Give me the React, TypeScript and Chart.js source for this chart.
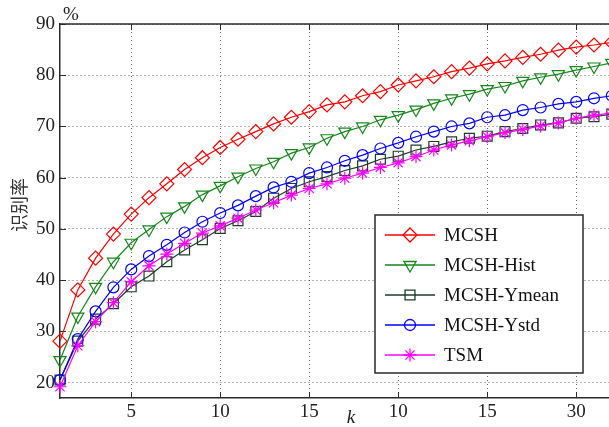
import React, { useEffect, useRef } from 'react';
import { Chart, registerables } from 'chart.js';

Chart.register(...registerables);

const kValues = [1, 2, 3, 4, 5, 6, 7, 8, 9, 10, 11, 12, 13, 14, 15, 16, 17, 18, 19, 20, 21, 22, 23, 24, 25, 26, 27, 28, 29, 30, 31, 32];
const xTickValues = [5, 10, 15, 20, 25, 30];
const xTickLabels = ['5', '10', '15', '10', '15', '30'];
const yTickValues = [20, 30, 40, 50, 60, 70, 80, 90];

const seriesNames = ['MCSH', 'MCSH-Hist', 'MCSH-Ymean', 'MCSH-Ystd', 'TSM'];
const mcsh = [28.1, 38.1, 44.3, 49.0, 52.9, 56.1, 58.8, 61.6, 63.9, 65.9, 67.5, 69.0, 70.5, 71.8, 72.9, 74.2, 74.8, 76.0, 76.8, 78.1, 78.9, 79.7, 80.7, 81.4, 82.2, 82.8, 83.5, 84.1, 84.9, 85.5, 85.9, 86.4];
const mcshHist = [24.4, 32.9, 38.7, 43.6, 47.3, 49.9, 52.4, 54.4, 56.7, 58.4, 60.2, 61.8, 63.1, 64.8, 65.9, 67.7, 69.0, 70.0, 71.3, 72.2, 73.3, 74.5, 75.5, 76.3, 77.3, 77.9, 78.9, 79.6, 80.2, 81.0, 81.7, 82.4];
const mcshYmean = [20.5, 28.1, 32.4, 35.4, 38.7, 40.8, 43.6, 45.9, 47.9, 50.1, 51.6, 53.4, 56.0, 57.9, 59.2, 60.2, 61.4, 62.3, 63.6, 64.2, 65.4, 66.1, 67.0, 67.7, 68.1, 69.0, 69.6, 70.3, 70.7, 71.6, 71.9, 72.4];
const mcshYstd = [20.5, 28.5, 33.9, 38.6, 42.1, 44.7, 46.9, 49.3, 51.4, 53.1, 54.6, 56.4, 58.1, 59.2, 60.9, 62.0, 63.3, 64.4, 65.7, 66.8, 68.0, 69.0, 70.0, 70.6, 71.8, 72.2, 73.2, 73.7, 74.4, 74.8, 75.5, 76.0];
const tsm = [19.2, 27.2, 31.9, 35.6, 39.7, 42.8, 45.1, 47.2, 49.2, 50.6, 52.1, 53.7, 55.1, 56.6, 57.9, 58.8, 59.9, 60.9, 62.0, 62.9, 64.1, 65.4, 66.4, 67.2, 68.0, 68.8, 69.4, 70.1, 70.7, 71.6, 72.2, 72.6];

const seriesValues = [mcsh, mcshHist, mcshYmean, mcshYstd, tsm];
const seriesColors = ['#ff0000', '#15871a', '#1d3b2a', '#0000ff', '#ff00ff'];
const seriesMarkers = ['rectRot', 'triangle', 'rect', 'circle', 'star'];
const markerRotation = [0, 180, 0, 0, 0];
const markerRadius = [7, 7, 7, 5.5, 6.5];

const SERIF = "'Liberation Serif', 'Times New Roman', serif";
const AXIS_COLOR = '#2b2b2b';

function drawMarker(ctx: CanvasRenderingContext2D, style: string, x: number, y: number, r: number, rot: number) {
  ctx.beginPath();
  if (style === 'rectRot') {
    ctx.moveTo(x, y - r);
    ctx.lineTo(x + r, y);
    ctx.lineTo(x, y + r);
    ctx.lineTo(x - r, y);
    ctx.closePath();
  } else if (style === 'triangle') {
    let rad = (rot * Math.PI) / 180;
    ctx.moveTo(x + Math.sin(rad) * r, y - Math.cos(rad) * r);
    rad += (2 * Math.PI) / 3;
    ctx.lineTo(x + Math.sin(rad) * r, y - Math.cos(rad) * r);
    rad += (2 * Math.PI) / 3;
    ctx.lineTo(x + Math.sin(rad) * r, y - Math.cos(rad) * r);
    ctx.closePath();
  } else if (style === 'rect') {
    const s = Math.SQRT1_2 * r;
    ctx.rect(x - s, y - s, 2 * s, 2 * s);
  } else if (style === 'circle') {
    ctx.arc(x, y, r, 0, Math.PI * 2);
  } else if (style === 'star') {
    for (let i = 0; i < 4; i++) {
      const a = (i * Math.PI) / 4;
      ctx.moveTo(x - Math.cos(a) * r, y - Math.sin(a) * r);
      ctx.lineTo(x + Math.cos(a) * r, y + Math.sin(a) * r);
    }
  }
  ctx.stroke();
}

const decorPlugin = {
  id: 'decor',
  beforeDatasetsDraw(chart: any) {
    const { ctx, chartArea } = chart;
    const xs = chart.scales.x;
    const ys = chart.scales.y;
    ctx.save();
    ctx.strokeStyle = AXIS_COLOR;
    ctx.lineWidth = 1.5;
    ctx.beginPath();
    ctx.moveTo(chartArea.left, chartArea.top);
    ctx.lineTo(chart.width, chartArea.top);
    ctx.stroke();
    ctx.lineWidth = 1;
    xTickValues.forEach((v) => {
      const px = Math.round(xs.getPixelForValue(v)) + 0.5;
      ctx.beginPath();
      ctx.moveTo(px, chartArea.bottom);
      ctx.lineTo(px, chartArea.bottom - 6);
      ctx.moveTo(px, chartArea.top);
      ctx.lineTo(px, chartArea.top + 6);
      ctx.stroke();
    });
    yTickValues.forEach((v) => {
      const py = Math.round(ys.getPixelForValue(v)) + 0.5;
      ctx.beginPath();
      ctx.moveTo(chartArea.left, py);
      ctx.lineTo(chartArea.left + 6, py);
      ctx.stroke();
    });
    ctx.restore();
  },
  afterDraw(chart: any) {
    const { ctx } = chart;
    ctx.save();
    ctx.fillStyle = '#222';
    ctx.font = `19px ${SERIF}`;
    ctx.textAlign = 'left';
    ctx.textBaseline = 'alphabetic';
    ctx.fillText('%', 63, 20);
    ctx.font = `italic 19px ${SERIF}`;
    ctx.textAlign = 'center';
    ctx.fillText('k', 351, 423);
    ctx.save();
    ctx.translate(19, 205);
    ctx.rotate(-Math.PI / 2);
    ctx.font = "18px 'Noto Sans CJK SC', sans-serif";
    ctx.fillStyle = '#333';
    ctx.textAlign = 'center';
    ctx.textBaseline = 'middle';
    ctx.fillText('识别率', 0, 0);
    ctx.restore();

    const lx = 375, ly = 215, lw = 208, lh = 158;
    ctx.fillStyle = '#ffffff';
    ctx.fillRect(lx, ly, lw, lh);
    ctx.strokeStyle = AXIS_COLOR;
    ctx.lineWidth = 1.5;
    ctx.strokeRect(lx, ly, lw, lh);
    seriesNames.forEach((name, i) => {
      const y = ly + 20 + i * 30;
      ctx.strokeStyle = seriesColors[i];
      ctx.lineWidth = 1.5;
      ctx.beginPath();
      ctx.moveTo(lx + 10, y);
      ctx.lineTo(lx + 60, y);
      ctx.stroke();
      ctx.lineWidth = 1.3;
      drawMarker(ctx, seriesMarkers[i], lx + 35, y, markerRadius[i], markerRotation[i]);
      ctx.fillStyle = '#111';
      ctx.font = `19px ${SERIF}`;
      ctx.textAlign = 'left';
      ctx.textBaseline = 'middle';
      ctx.fillText(name, lx + 69, y + 1);
    });
    ctx.restore();
  },
};

export default function App() {
  const canvasRef = useRef<HTMLCanvasElement | null>(null);

  useEffect(() => {
    const canvas = canvasRef.current;
    if (!canvas) return;
    const datasets = seriesNames.map((name, i) => ({
      label: name,
      data: kValues.map((k, j) => ({ x: k, y: seriesValues[i][j] })),
      borderColor: seriesColors[i],
      backgroundColor: 'rgba(0,0,0,0)',
      borderWidth: 1.2,
      pointStyle: seriesMarkers[i] as any,
      pointRotation: markerRotation[i],
      pointRadius: markerRadius[i],
      pointBorderWidth: 1.2,
      pointBorderColor: seriesColors[i],
      pointBackgroundColor: 'rgba(0,0,0,0)',
      tension: 0,
      clip: false as any,
      order: 5 - i,
    }));

    const chart = new Chart(canvas, {
      type: 'line',
      data: { datasets },
      options: {
        responsive: false,
        animation: false,
        devicePixelRatio: 1,
        events: [],
        layout: { padding: { top: 24, right: 6, left: 0, bottom: 0 } },
        plugins: { legend: { display: false }, tooltip: { enabled: false } },
        scales: {
          x: {
            type: 'linear',
            min: 1,
            max: 32,
            afterFit: (s: any) => { s.height = 29; },
            afterBuildTicks: (s: any) => { s.ticks = xTickValues.map((v) => ({ value: v })); },
            ticks: {
              callback: (v: any) => xTickLabels[xTickValues.indexOf(Number(v))],
              font: { family: SERIF, size: 19 },
              color: '#222',
              padding: 3,
              maxRotation: 0,
              autoSkip: false,
            },
            grid: { color: 'rgba(0,0,0,0.6)', lineWidth: 1, drawTicks: false },
            border: { display: true, color: AXIS_COLOR, width: 1.5, dash: [1, 3] },
          },
          y: {
            type: 'linear',
            min: 17,
            max: 90,
            afterFit: (s: any) => { s.width = 60; },
            afterBuildTicks: (s: any) => { s.ticks = yTickValues.map((v) => ({ value: v })); },
            ticks: {
              font: { family: SERIF, size: 19 },
              color: '#222',
              padding: 5,
              autoSkip: false,
            },
            grid: { color: 'rgba(0,0,0,0.6)', lineWidth: 1, drawTicks: false },
            border: { display: true, color: AXIS_COLOR, width: 1.5, dash: [1, 3] },
          },
        },
      },
      plugins: [decorPlugin],
    });
    return () => chart.destroy();
  }, []);

  return (
    <div style={{ position: 'fixed', left: 0, top: 0, width: 609, height: 427, overflow: 'hidden', background: '#fff' }}>
      <canvas ref={canvasRef} width={620} height={427} style={{ display: 'block' }} />
    </div>
  );
}
